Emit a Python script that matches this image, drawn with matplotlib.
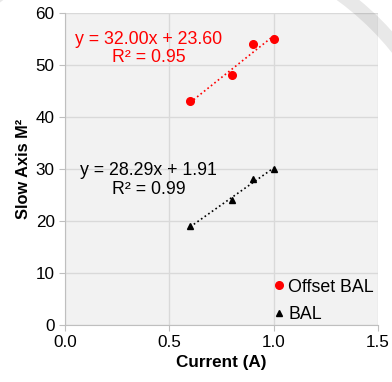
import numpy as np
import matplotlib.pyplot as plt
from matplotlib.patches import Circle

plt.rcParams['font.family'] = ['Liberation Sans', 'DejaVu Sans']

current = [0.6, 0.8, 0.9, 1.0]
offset_bal = [43, 48, 54, 55]
bal = [19, 24, 28, 30]

xticks = [0.0, 0.5, 1.0, 1.5]
yticks = [0, 10, 20, 30, 40, 50, 60]

fig = plt.figure(figsize=(3.92, 3.82), dpi=100)

ax = fig.add_axes([0.166, 0.149, 0.798, 0.817])
ax.set_facecolor('#f2f2f2')

x = np.array(current)
for ys, color, marker, label, ty in [(offset_bal, 'red', 'o', 'Offset BAL', 53.2),
                                     (bal, 'black', '^', 'BAL', 27.9)]:
    ys = np.array(ys)
    slope, inter = np.polyfit(x, ys, 1)
    r2 = np.corrcoef(x, ys)[0, 1] ** 2
    ax.plot(x, ys, marker, color=color, ms=5.5 if marker == 'o' else 5,
            ls='none', label=label, zorder=3)
    xf = np.array([x.min(), x.max()])
    ax.plot(xf, slope * xf + inter, ls=':', color=color, lw=1.2, zorder=2)
    ax.text(0.40, ty, f"y = {slope:.2f}x + {inter:.2f}\nR² = {r2:.2f}",
            color=color, fontsize=12.8, ha='center', va='center', linespacing=1.12)

ax.set_xlim(0, 1.5)
ax.set_ylim(0, 60)
ax.set_xticks(xticks)
ax.set_yticks(yticks)
ax.set_xticklabels([f"{t:.1f}" for t in xticks])
ax.grid(True, color='#d9d9d9', lw=1)
ax.set_axisbelow(True)
for s in ['top', 'right']:
    ax.spines[s].set_visible(False)
for s in ['left', 'bottom']:
    ax.spines[s].set_color('#bfbfbf')
ax.tick_params(colors='#bfbfbf', labelcolor='black', labelsize=12.3, length=4)

ax.set_xlabel('Current (A)', fontsize=12.3, fontweight='bold', labelpad=3)
ax.set_ylabel('Slow Axis M²', fontsize=11.8, fontweight='bold', labelpad=3)

ax.legend(loc='lower right', frameon=False, fontsize=12.8, handletextpad=0.0,
          handlelength=1.0, borderaxespad=0.0, labelspacing=0.6,
          bbox_to_anchor=(1.01, -0.017))

# faint decorative arc over the top right corner (pixel coords)
fg = fig.add_axes([0, 0, 1, 1], zorder=10)
fg.set_xlim(0, 392)
fg.set_ylim(382, 0)
fg.axis('off')
fg.add_patch(Circle((170, 230), 291, fill=False, ec='black', alpha=0.09, lw=10))

fig.savefig('out.png', dpi=100)
